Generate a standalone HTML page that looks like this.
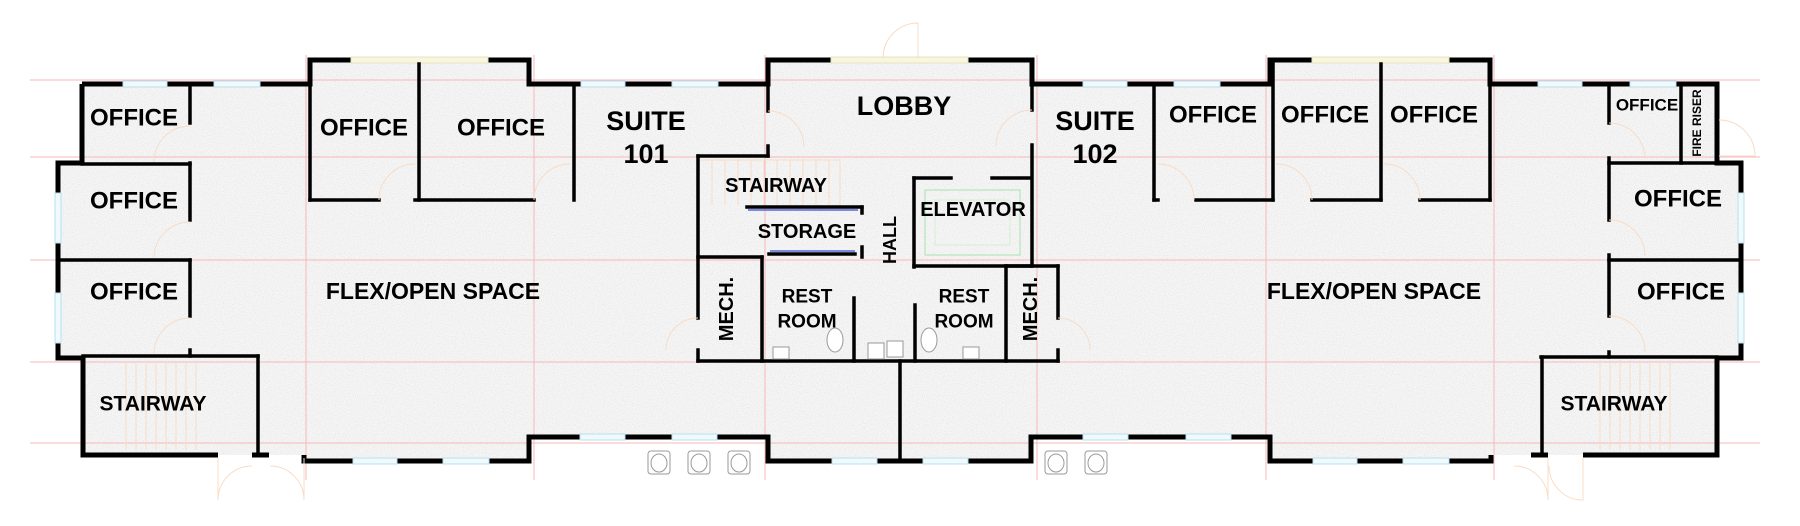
<!DOCTYPE html>
<html><head><meta charset="utf-8"><style>
html,body{margin:0;padding:0;background:#fff;}
svg{display:block;}
text{font-family:"Liberation Sans",Arial,sans-serif;font-weight:bold;fill:#000;}
</style></head><body>
<svg width="1800" height="526" viewBox="0 0 1800 526" xmlns="http://www.w3.org/2000/svg">
<defs>
<filter id="spk" x="0" y="0" width="100%" height="100%">
<feTurbulence type="fractalNoise" baseFrequency="0.9" numOctaves="1" seed="3" result="n"/>
<feColorMatrix in="n" type="matrix" values="0 0 0 0 0.6  0 0 0 0 0.6  0 0 0 0 0.6  0 0 0 -2.2 1.2" result="d"/>
<feComposite in="d" in2="SourceGraphic" operator="in"/>
</filter>
</defs>
<!-- floor -->
<polygon points="82,84 310,84 310,60 529,60 529,84 768,84 768,60 1032,60 1032,84 1270,84 1270,60 1490,60 1490,84 1717,84 1717,163 1741,163 1741,358 1717,358 1717,455 1491,455 1491,461 1270,461 1270,437 1031,437 1031,461 768,461 768,437 529,437 529,461 304,461 304,455 83,455 83,358 58,358 58,163 82,163" fill="#f5f5f5"/>
<polygon points="82,84 310,84 310,60 529,60 529,84 768,84 768,60 1032,60 1032,84 1270,84 1270,60 1490,60 1490,84 1717,84 1717,163 1741,163 1741,358 1717,358 1717,455 1491,455 1491,461 1270,461 1270,437 1031,437 1031,461 768,461 768,437 529,437 529,461 304,461 304,455 83,455 83,358 58,358 58,163 82,163" fill="#fff" filter="url(#spk)" opacity="0.45"/>
<!-- pink grid -->
<g stroke="#f7b8b8" stroke-width="1" fill="none">
<line x1="30" y1="80" x2="1760" y2="80"/>
<line x1="30" y1="157" x2="1760" y2="157"/>
<line x1="30" y1="260" x2="1760" y2="260"/>
<line x1="30" y1="362" x2="1760" y2="362"/>
<line x1="30" y1="443" x2="1760" y2="443"/>
<line x1="306" y1="55" x2="306" y2="480"/>
<line x1="534" y1="55" x2="534" y2="480"/>
<line x1="765" y1="55" x2="765" y2="480"/>
<line x1="1037" y1="55" x2="1037" y2="480"/>
<line x1="1266" y1="55" x2="1266" y2="480"/>
<line x1="1494" y1="55" x2="1494" y2="480"/>
</g>
<!-- exterior walls -->
<polyline points="82,84 310,84 310,60 529,60 529,84 768,84 768,60 1032,60 1032,84 1270,84 1270,60 1490,60 1490,84 1717,84 1717,163 1741,163 1741,358 1717,358 1717,455 1583,455" fill="none" stroke="#000" stroke-width="5"/>
<polyline points="1491,455 1491,461 1270,461 1270,437 1031,437 1031,461 768,461 768,437 529,437 529,461 304,461 304,455" fill="none" stroke="#000" stroke-width="5"/>
<polyline points="218,455 83,455 83,358 58,358 58,163 82,163 82,84" fill="none" stroke="#000" stroke-width="5"/>
<line x1="252" y1="455" x2="269" y2="455" stroke="#000" stroke-width="5"/>
<line x1="1531" y1="455" x2="1548" y2="455" stroke="#000" stroke-width="5"/>
<!-- windows -->
<g fill="#f0f9fc" stroke="#b8e0f0" stroke-width="1">
<rect x="123" y="81" width="44" height="6"/><rect x="214" y="81" width="46" height="6"/>
<rect x="581" y="81" width="44" height="6"/><rect x="672" y="81" width="46" height="6"/>
<rect x="1083" y="81" width="44" height="6"/><rect x="1174" y="81" width="46" height="6"/>
<rect x="1538" y="81" width="44" height="6"/><rect x="1630" y="81" width="46" height="6"/>
<rect x="580" y="434" width="45" height="6"/><rect x="672" y="434" width="45" height="6"/>
<rect x="1083" y="434" width="45" height="6"/><rect x="1186" y="434" width="45" height="6"/>
<rect x="832" y="458" width="45" height="6"/><rect x="923" y="458" width="45" height="6"/>
<rect x="353" y="458" width="44" height="6"/><rect x="443" y="458" width="46" height="6"/>
<rect x="1313" y="458" width="44" height="6"/><rect x="1403" y="458" width="46" height="6"/>
<rect x="55" y="193" width="6" height="50"/><rect x="55" y="293" width="6" height="50"/>
<rect x="1738" y="193" width="6" height="50"/><rect x="1738" y="293" width="6" height="50"/>
</g>
<g fill="#f8f5e0" stroke="#e8e2b8" stroke-width="1">
<rect x="351" y="57" width="137" height="6"/><rect x="1312" y="57" width="137" height="6"/>
<rect x="831" y="57" width="137" height="6"/>
</g>
<!-- interior walls -->
<g stroke="#000" stroke-width="3.5" fill="none" stroke-linecap="square">
<line x1="190" y1="84" x2="190" y2="123"/>
<line x1="190" y1="163" x2="190" y2="220"/>
<line x1="190" y1="260" x2="190" y2="316"/>
<line x1="190" y1="350" x2="190" y2="356"/>
<line x1="82" y1="164" x2="190" y2="164"/>
<line x1="58" y1="260" x2="190" y2="260"/>
<line x1="83" y1="356" x2="258" y2="356"/>
<line x1="258" y1="356" x2="258" y2="455"/>
<line x1="310" y1="84" x2="310" y2="200"/>
<line x1="310" y1="200" x2="379" y2="200"/>
<line x1="415" y1="200" x2="534" y2="200"/>
<line x1="419" y1="64" x2="419" y2="200"/>
<line x1="574" y1="84" x2="574" y2="200"/>
<line x1="768" y1="60" x2="768" y2="111"/>
<line x1="768" y1="146" x2="768" y2="156"/>
<line x1="698" y1="156" x2="768" y2="156"/>
<line x1="698" y1="156" x2="698" y2="318"/>
<line x1="698" y1="350" x2="698" y2="361"/>
<line x1="698" y1="257" x2="762" y2="257"/>
<line x1="747" y1="207" x2="862" y2="207"/>
<line x1="862" y1="207" x2="862" y2="213"/>
<line x1="862" y1="247" x2="862" y2="257"/>
<line x1="769" y1="254" x2="855" y2="254"/>
<line x1="762" y1="257" x2="762" y2="361"/>
<line x1="854" y1="298" x2="854" y2="361"/>
<line x1="698" y1="361" x2="1058" y2="361"/>
<line x1="900" y1="361" x2="900" y2="461"/>
<line x1="914" y1="178" x2="914" y2="267"/>
<line x1="914" y1="178" x2="951" y2="178"/>
<line x1="992" y1="178" x2="1031" y2="178"/>
<line x1="1032" y1="60" x2="1032" y2="110"/>
<line x1="1032" y1="145" x2="1032" y2="266"/>
<line x1="914" y1="266" x2="1031" y2="266"/>
<line x1="915" y1="305" x2="915" y2="361"/>
<line x1="1006" y1="266" x2="1006" y2="361"/>
<line x1="1006" y1="266" x2="1058" y2="266"/>
<line x1="1058" y1="266" x2="1058" y2="318"/>
<line x1="1058" y1="350" x2="1058" y2="361"/>
<line x1="1154" y1="84" x2="1154" y2="200"/>
<line x1="1154" y1="200" x2="1158" y2="200"/>
<line x1="1196" y1="200" x2="1273" y2="200"/>
<line x1="1273" y1="60" x2="1273" y2="200"/>
<line x1="1312" y1="200" x2="1381" y2="200"/>
<line x1="1381" y1="64" x2="1381" y2="200"/>
<line x1="1420" y1="200" x2="1490" y2="200"/>
<line x1="1490" y1="84" x2="1490" y2="200"/>
<line x1="1609" y1="84" x2="1609" y2="123"/>
<line x1="1609" y1="158" x2="1609" y2="220"/>
<line x1="1609" y1="255" x2="1609" y2="316"/>
<line x1="1609" y1="352" x2="1609" y2="357"/>
<line x1="1609" y1="163" x2="1741" y2="163"/>
<line x1="1609" y1="260" x2="1741" y2="260"/>
<line x1="1681" y1="84" x2="1681" y2="163"/>
<line x1="1541" y1="357" x2="1717" y2="357"/>
<line x1="1542" y1="357" x2="1542" y2="455"/>
</g>
<line x1="748" y1="210" x2="858" y2="210" stroke="#5566dd" stroke-width="1.5"/>
<line x1="770" y1="251" x2="855" y2="251" stroke="#5566dd" stroke-width="1.5"/>
<rect x="925" y="190" width="95" height="65" fill="none" stroke="#bfe8c4" stroke-width="1.5"/>
<rect x="935" y="200" width="75" height="45" fill="none" stroke="#d4f0d8" stroke-width="1"/>
<g stroke="#f8dcc6" stroke-width="1" fill="none">
<path d="M700,160 H840 V205 M712,160 V205 M725,160 V205 M738,160 V205 M751,160 V205 M764,160 V205 M777,160 V205 M790,160 V205 M803,160 V205 M816,160 V205 M829,160 V205"/>
<path d="M126,362 V450 M136,362 V450 M146,362 V450 M156,362 V450 M166,362 V450 M176,362 V450 M186,362 V450 M196,362 V450"/>
<path d="M1600,360 V450 M1610,360 V450 M1620,360 V450 M1630,360 V450 M1640,360 V450 M1650,360 V450 M1660,360 V450 M1670,360 V450"/>
<path d="M190,126 A36,36 0 0 0 154,162"/><path d="M190,222 A36,36 0 0 0 154,258"/><path d="M190,318 A36,36 0 0 0 154,354"/>
<path d="M415,164 A36,36 0 0 0 379,200"/><path d="M570,164 A36,36 0 0 0 534,200"/>
<path d="M768,111 A36,36 0 0 1 804,147"/><path d="M1032,110 A36,36 0 0 0 996,146"/>
<path d="M1158,164 A36,36 0 0 1 1194,200"/><path d="M1276,164 A36,36 0 0 1 1312,200"/><path d="M1384,164 A36,36 0 0 1 1420,200"/>
<path d="M1609,123 A36,36 0 0 1 1645,159"/><path d="M1609,220 A36,36 0 0 1 1645,256"/><path d="M1609,316 A36,36 0 0 1 1645,352"/>
<path d="M698,318 A32,32 0 0 0 666,350"/><path d="M1058,318 A32,32 0 0 1 1090,350"/>
<path d="M218,458 V500 A34,34 0 0 1 252,466"/><path d="M304,458 V500 A34,34 0 0 0 270,466"/>
<path d="M1548,458 V500 A34,34 0 0 0 1514,466"/><path d="M1583,458 V500 A34,34 0 0 1 1549,466"/>
<path d="M883,58 A35,35 0 0 1 918,23 V58"/>
<path d="M1719,120 A36,36 0 0 1 1755,156 H1719"/>
</g>
<g fill="#fff" stroke="#999" stroke-width="1">
<rect x="648" y="451" width="22" height="23" rx="3"/><ellipse cx="659" cy="463" rx="8" ry="9"/>
<rect x="688" y="451" width="22" height="23" rx="3"/><ellipse cx="699" cy="463" rx="8" ry="9"/>
<rect x="728" y="451" width="22" height="23" rx="3"/><ellipse cx="739" cy="463" rx="8" ry="9"/>
<rect x="1045" y="451" width="22" height="23" rx="3"/><ellipse cx="1056" cy="463" rx="8" ry="9"/>
<rect x="1085" y="451" width="22" height="23" rx="3"/><ellipse cx="1096" cy="463" rx="8" ry="9"/>
<rect x="773" y="347" width="16" height="12"/><rect x="963" y="347" width="16" height="12"/>
<ellipse cx="835" cy="340" rx="8" ry="12"/><ellipse cx="929" cy="340" rx="8" ry="12"/>
<rect x="868" y="343" width="16" height="16"/><rect x="887" y="341" width="16" height="16"/>
</g>
<g text-anchor="middle" dominant-baseline="central">
<text x="134" y="118" font-size="24">OFFICE</text>
<text x="134" y="201" font-size="24">OFFICE</text>
<text x="134" y="292" font-size="24">OFFICE</text>
<text x="364" y="128" font-size="24">OFFICE</text>
<text x="501" y="128" font-size="24">OFFICE</text>
<text x="646" y="121" font-size="27">SUITE</text>
<text x="646" y="154" font-size="27">101</text>
<text x="904" y="106" font-size="27">LOBBY</text>
<text x="776" y="186" font-size="20">STAIRWAY</text>
<text x="807" y="232" font-size="20">STORAGE</text>
<text x="973" y="210" font-size="20">ELEVATOR</text>
<text x="807" y="297" font-size="19">REST</text>
<text x="807" y="322" font-size="19">ROOM</text>
<text x="964" y="297" font-size="19">REST</text>
<text x="964" y="322" font-size="19">ROOM</text>
<text transform="translate(890,240) rotate(-90)" font-size="18">HALL</text>
<text transform="translate(727,309) rotate(-90)" font-size="20">MECH.</text>
<text transform="translate(1031,309) rotate(-90)" font-size="20">MECH.</text>
<text x="433" y="291" font-size="23">FLEX/OPEN SPACE</text>
<text x="1374" y="291" font-size="23">FLEX/OPEN SPACE</text>
<text x="153" y="404" font-size="21">STAIRWAY</text>
<text x="1614" y="404" font-size="21">STAIRWAY</text>
<text x="1095" y="121" font-size="27">SUITE</text>
<text x="1095" y="154" font-size="27">102</text>
<text x="1213" y="115" font-size="24">OFFICE</text>
<text x="1325" y="115" font-size="24">OFFICE</text>
<text x="1434" y="115" font-size="24">OFFICE</text>
<text x="1647" y="105" font-size="17">OFFICE</text>
<text transform="translate(1697,123) rotate(-90)" font-size="12" font-weight="normal">FIRE RISER</text>
<text x="1678" y="199" font-size="24">OFFICE</text>
<text x="1681" y="292" font-size="24">OFFICE</text>
</g>
</svg>
</body></html>
